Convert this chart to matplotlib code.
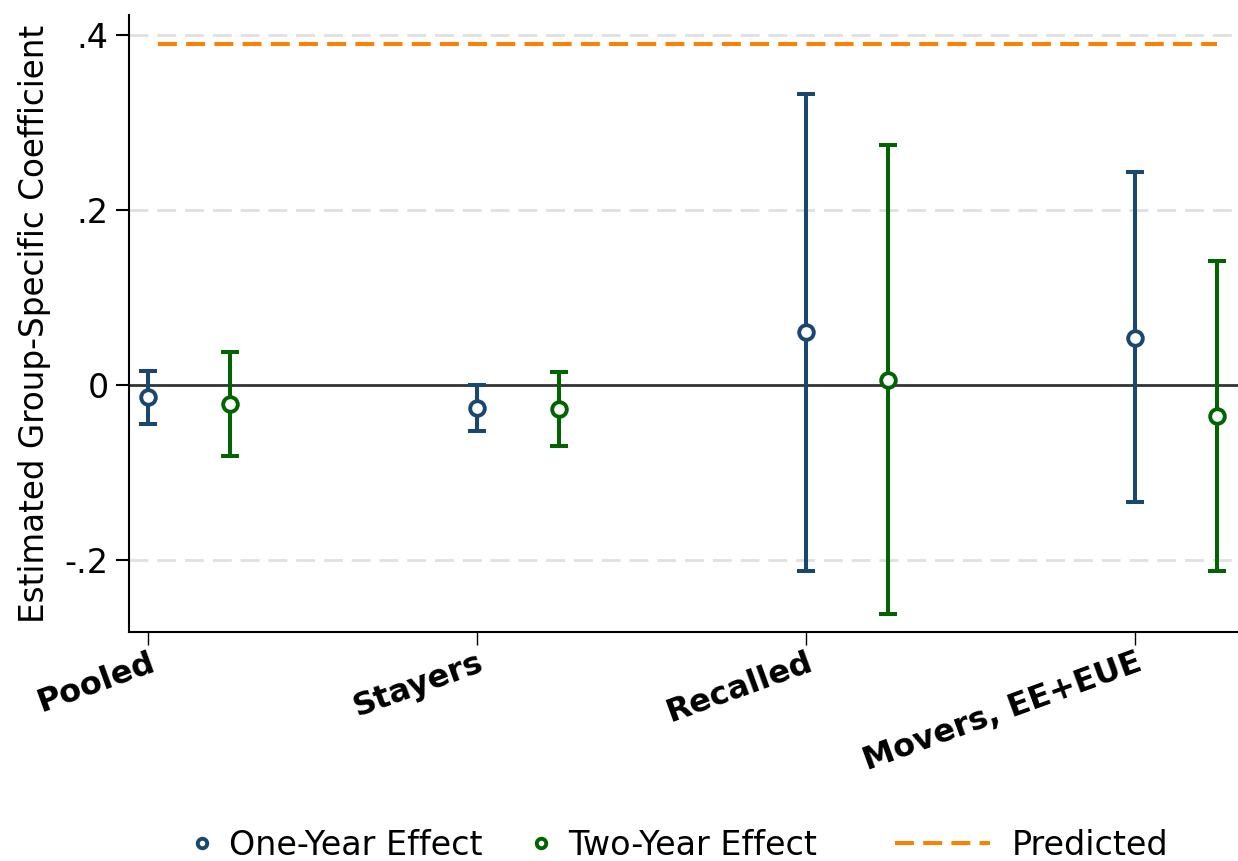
import numpy as np
import matplotlib.pyplot as plt

groups = ['Pooled', 'Stayers', 'Recalled', 'Movers, EE+EUE']
one_est = [-0.014, -0.026, 0.061, 0.054]
one_lo = [-0.045, -0.053, -0.213, -0.134]
one_hi = [0.016, 0.0, 0.333, 0.243]
two_est = [-0.022, -0.027, 0.006, -0.035]
two_lo = [-0.081, -0.070, -0.262, -0.213]
two_hi = [0.038, 0.015, 0.274, 0.142]
predicted = 0.39

blue = '#1a476f'
green = '#006400'
orange = '#ff8000'

x = np.arange(1, len(groups) + 1)
off = 0.25

fig = plt.figure(figsize=(12.38, 8.61), dpi=100)
ax = fig.add_axes([0.1042, 0.266, 0.8958, 0.7165])

for yv in [-0.2, 0.2, 0.4]:
    ax.axhline(yv, color='#e0e0e0', lw=2, ls=(0, (6.8, 3.2)), zorder=0)
ax.axhline(0, color='#333333', lw=2, zorder=1)


def draw(xs, est, lo, hi, col, lab):
    est = np.array(est)
    err = [est - np.array(lo), np.array(hi) - est]
    ax.errorbar(xs, est, yerr=err, fmt='none', ecolor=col, elinewidth=2.9,
                capsize=6.5, capthick=2.9, zorder=2)
    return ax.plot(xs, est, 'o', ms=10.5, mfc='white', mec=col, mew=2.8,
                   zorder=3, label=lab, ls='none')[0]


h1 = draw(x, one_est, one_lo, one_hi, blue, 'One-Year Effect')
h2 = draw(x + off, two_est, two_lo, two_hi, green, 'Two-Year Effect')
h3, = ax.plot([x[0] + 0.03, x[-1] + off], [predicted, predicted], color=orange,
              lw=2.9, ls=(0, (4.7, 2.3)), label='Predicted', zorder=2)

ax.set_xlim(0.942, 4.313)
ax.set_ylim(-0.2823, 0.4229)
ax.set_xticks(x)
ax.set_xticklabels(groups, rotation=20, ha='right', rotation_mode='anchor',
                   fontweight='bold', fontsize=23)
ax.set_yticks([-0.2, 0, 0.2, 0.4])
ax.set_yticklabels(['-.2', '0', '.2', '.4'], fontsize=24)
ax.tick_params(axis='y', length=9.5, width=1.5, pad=5)
ax.tick_params(axis='x', length=9, width=1, pad=2)
ax.set_ylabel('Estimated Group-Specific Coefficient', fontsize=23.5, labelpad=10)
for s in ['top', 'right']:
    ax.spines[s].set_visible(False)
for s in ['left', 'bottom']:
    ax.spines[s].set_linewidth(1.5)

# legend: one entry per box so the spacing can follow the original
leg_y = 0.018
for h, lx, hl, pad in [(h1, 0.1551, 0.6, 0.5), (h2, 0.4289, 0.6, 0.5),
                       (h3, 0.7229, 2.85, 0.66)]:
    fig.legend(handles=[h], loc='center left', bbox_to_anchor=(lx, leg_y),
               frameon=False, fontsize=24, markerscale=0.65, handlelength=hl,
               handletextpad=pad, borderpad=0, borderaxespad=0, numpoints=1)

fig.savefig('out.png', dpi=100)
